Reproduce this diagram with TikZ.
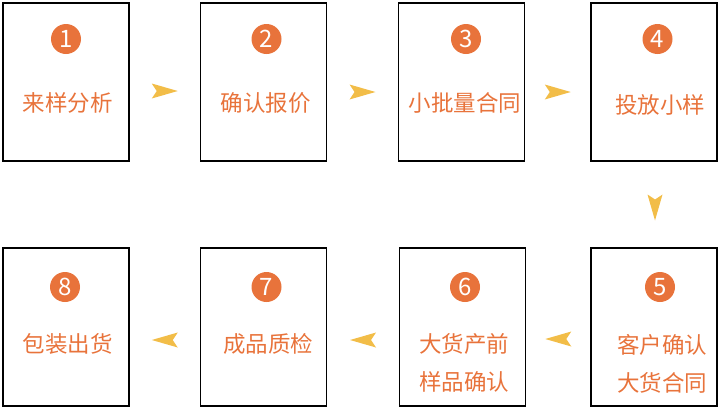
\documentclass[tikz,border=0pt]{standalone}
\usepackage{fontspec}
\newfontfamily\cjk{Noto Sans CJK SC}
\usetikzlibrary{calc}
\usetikzlibrary{decorations.markings}
\definecolor{stepcolor}{HTML}{E8733B}
\definecolor{arrowcolor}{HTML}{F2BD48}

\begin{document}
\begin{tikzpicture}[x=1pt, y=-1pt,
  stepbox/.style={draw, line width=1.4pt, minimum width=126pt, minimum height=158pt, inner sep=0pt},
  badge/.style={circle, fill=stepcolor, minimum size=30pt, inner sep=0pt, text=white,
                font=\cjk\fontsize{24}{24}\selectfont},
  steptext/.style={text=stepcolor, align=center, inner sep=0pt,
                   font=\cjk\fontsize{22.5}{38}\selectfont},
  flow/.style={postaction={decorate}, decoration={markings, mark=at position 0.5 with
               {\fill[arrowcolor] (13pt,0pt) -- (-13pt,7.5pt) -- (-8pt,0pt) -- (-13pt,-7.5pt) -- cycle;}}}
]

% ------------------------------------------------------------------
% === EDITABLE PARAMETERS ==========================================
\def\rowA{82}       % centre of the upper row of boxes
\def\rowB{327}      % centre of the lower row of boxes
\def\badgeA{39}     % number badges, upper row
\def\badgeB{287}    % number badges, lower row
% ==================================================================
% ------------------------------------------------------------------

\useasboundingbox (0,0) rectangle (720,410);

% --- upper row: steps 1 -> 4 --------------------------------------
\node[stepbox] (b1) at (66,\rowA)    {};
\node[stepbox] (b2) at (263.5,\rowA) {};
\node[stepbox] (b3) at (461.5,\rowA) {};
\node[stepbox] (b4) at (654,\rowA)   {};

% --- lower row: steps 5 -> 8 (right to left) ----------------------
\node[stepbox] (b5) at (654,\rowB)   {};
\node[stepbox] (b6) at (462.5,\rowB) {};
\node[stepbox] (b7) at (263.5,\rowB) {};
\node[stepbox] (b8) at (66,\rowB)    {};

% === number badges ================================================
\node[badge] (c1) at (66,\badgeA)    {1};
\node[badge] (c2) at (266.5,\badgeA) {2};
\node[badge] (c3) at (466,\badgeA)   {3};
\node[badge] (c4) at (657.5,\badgeA) {4};
\node[badge] (c5) at (660,\badgeB)   {5};
\node[badge] (c6) at (465,\badgeB)   {6};
\node[badge] (c7) at (266.5,\badgeB) {7};
\node[badge] (c8) at (65,\badgeB)    {8};

% === step names ===================================================
\node[steptext] (t1) at (68,103)    {来样分析};
\node[steptext] (t2) at (265.5,103) {确认报价};
\node[steptext] (t3) at (465,103)   {小批量合同};
\node[steptext] (t4) at (660,105)   {投放小样};
\node[steptext] (t5) at (662,364)   {客户确认\\大货合同};
\node[steptext] (t6) at (464,362.5) {大货产前\\样品确认};
\node[steptext] (t7) at (268,344)   {成品质检};
\node[steptext] (t8) at (68,344)    {包装出货};

% --- arrows between the boxes (tip only, no line) -----------------
\path[flow] ($(b1.east)+(0,9)$) -- ($(b2.west)+(0,9)$);
\path[flow] ($(b2.east)+(0,10)$) -- ($(b3.west)+(0,10)$);
\path[flow] ($(b3.east)+(0,10)$) -- ($(b4.west)+(0,10)$);
\path[flow] ($(b4.south)+(1,3)$) -- ($(b5.north)+(1,3)$);
\path[flow] ($(b5.west)+(0,12)$) -- ($(b6.east)+(0,12)$);
\path[flow] ($(b6.west)+(0,13)$) -- ($(b7.east)+(0,13)$);
\path[flow] ($(b7.west)+(0,13)$) -- ($(b8.east)+(0,13)$);

\end{tikzpicture}
\end{document}
